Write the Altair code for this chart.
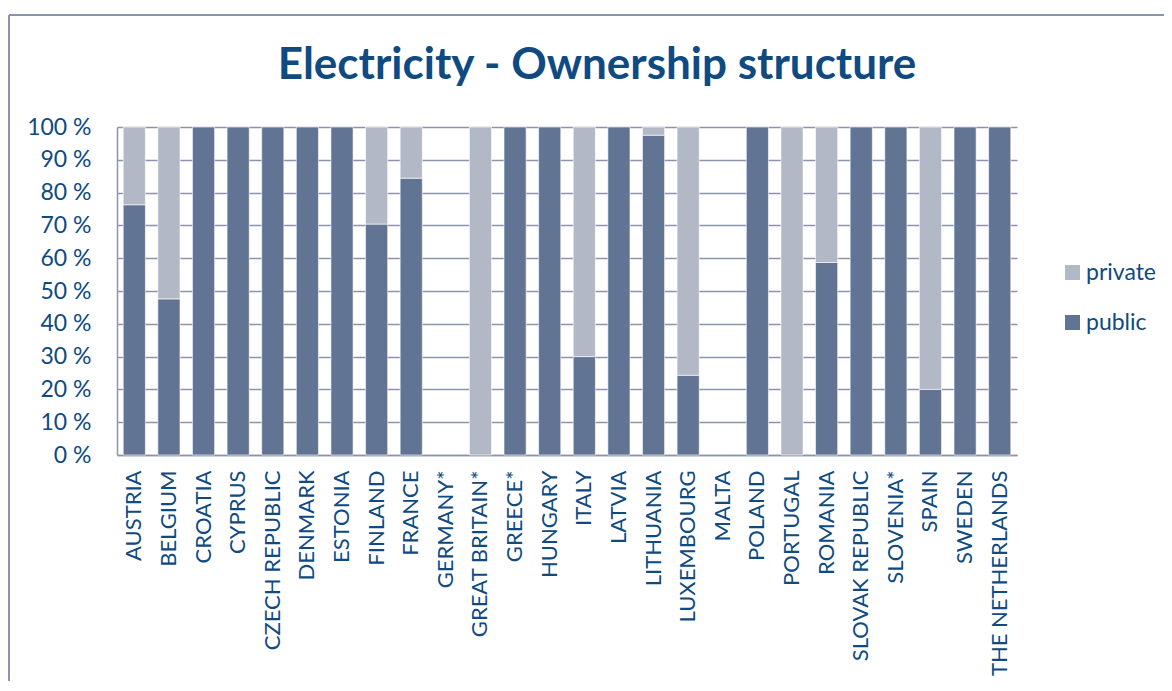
import altair as alt
import pandas as pd

countries = ["AUSTRIA", "BELGIUM", "CROATIA", "CYPRUS", "CZECH REPUBLIC", "DENMARK",
             "ESTONIA", "FINLAND", "FRANCE", "GERMANY*", "GREAT BRITAIN*", "GREECE*",
             "HUNGARY", "ITALY", "LATVIA", "LITHUANIA", "LUXEMBOURG", "MALTA", "POLAND",
             "PORTUGAL", "ROMANIA", "SLOVAK REPUBLIC", "SLOVENIA*", "SPAIN", "SWEDEN",
             "THE NETHERLANDS"]
public = [76.3, 47.6, 100, 100, 100, 100, 100, 70.4, 84.4, 0, 0, 100, 100, 30, 100,
          97.5, 24.3, 0, 100, 0, 58.7, 100, 100, 20, 100, 100]
private = [23.7, 52.4, 0, 0, 0, 0, 0, 29.6, 15.6, 0, 100, 0, 0, 70, 0, 2.5, 75.7, 0,
           0, 100, 41.3, 0, 0, 80, 0, 0]
series = ["private", "public"]
series_colors = ["#b3b8c6", "#617493"]

rows = []
for c, pu, pr in zip(countries, public, private):
    rows.append({"country": c, "series": "public", "value": pu, "ord": 0})
    rows.append({"country": c, "series": "private", "value": pr, "ord": 1})
df = pd.DataFrame(rows)

TXT = "#0f4a80"
GRID = "#8a94ac"

bars = alt.Chart(df).transform_filter("datum.value > 0").mark_bar(
    stroke="white", strokeWidth=0.6).encode(
    x=alt.X("country:N", sort=countries,
            scale=alt.Scale(domain=countries, paddingInner=0.36, paddingOuter=0.18),
            axis=alt.Axis(title=None, labelAngle=-90, labelFontSize=22, labelColor=TXT,
                          labelFont="Lato", ticks=False, labelPadding=15,
                          domainColor=GRID, domainWidth=1.5, grid=False, labelLimit=300)),
    y=alt.Y("value:Q", stack="zero",
            scale=alt.Scale(domain=[0, 100], nice=False),
            axis=alt.Axis(title=None, values=list(range(0, 101, 10)),
                          labelExpr="datum.value + ' %'", labelFontSize=23,
                          labelColor=TXT, labelFont="Lato", ticks=False,
                          labelPadding=26, domainColor=GRID, domainWidth=1.5,
                          gridColor=GRID, gridWidth=1.5, gridOpacity=1)),
    color=alt.Color("series:N", scale=alt.Scale(domain=series, range=series_colors),
                    legend=alt.Legend(title=None, orient="none", legendX=944, legendY=134,
                                      symbolType="square", symbolSize=225,
                                      symbolStrokeWidth=0, labelFontSize=23,
                                      labelColor=TXT, labelFont="Lato", rowPadding=26,
                                      labelOffset=2, padding=0)),
    order=alt.Order("ord:Q"),
)

frame_left = alt.Chart(df).mark_rule(color=GRID, strokeWidth=2).encode(
    x=alt.value(-108), y=alt.value(-112), y2=alt.value(600))
frame_top = alt.Chart(df).mark_rule(color=GRID, strokeWidth=2).encode(
    x=alt.value(-108), x2=alt.value(1100), y=alt.value(-112))

chart = alt.layer(frame_left, frame_top, bars).properties(
    width=900, height=328,
    autosize=alt.AutoSizeParams(type="none"),
    padding={"left": 109, "top": 119, "right": 147, "bottom": 226},
    title=alt.TitleParams("Electricity - Ownership structure", fontSize=44,
                          font="Lato", fontWeight="bold", color=TXT,
                          anchor="middle", frame="group", dx=30, offset=0, dy=109,
                          baseline="alphabetic"),
).configure_view(stroke=None)

chart.save("out.html", embed_options={"renderer": "svg", "actions": False})
